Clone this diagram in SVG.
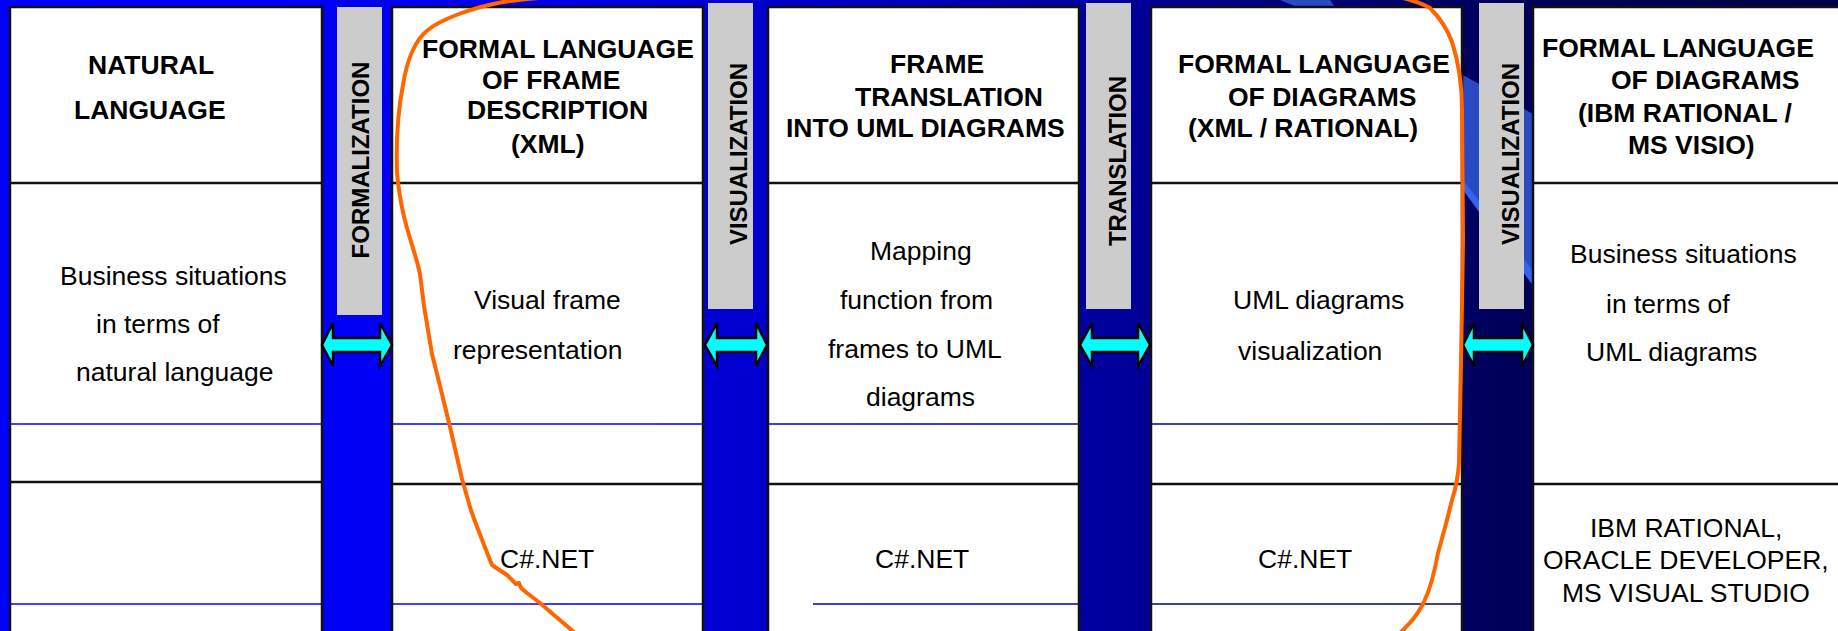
<svg xmlns="http://www.w3.org/2000/svg" width="1838" height="631" viewBox="0 0 1838 631">
<defs>
<linearGradient id="bg" gradientUnits="userSpaceOnUse" x1="0" y1="0" x2="1838" y2="0">
<stop offset="0" stop-color="#0000FF"/>
<stop offset="0.2" stop-color="#0000F5"/>
<stop offset="0.4" stop-color="#0000D2"/>
<stop offset="0.6" stop-color="#00009E"/>
<stop offset="0.82" stop-color="#00005A"/>
<stop offset="1" stop-color="#000048"/>
</linearGradient>
<style>
.box{fill:#fff;stroke:#111;stroke-width:2.5}
.hl{stroke:#111;stroke-width:2.5}
.thin{stroke:url(#bg);stroke-width:1.3}
.bar{fill:#cccccc}
.h{font-family:"Liberation Sans",Arial,sans-serif;font-weight:bold;font-size:26.5px;fill:#000}
.t{font-family:"Liberation Sans",Arial,sans-serif;font-size:26.5px;fill:#000}
.v{font-family:"Liberation Sans",Arial,sans-serif;font-weight:bold;font-size:24px;fill:#000;text-anchor:middle}
.arrow{fill:#00FFFF;stroke:#000;stroke-width:2.5;stroke-linejoin:miter}
.hi{fill:none;stroke:#FF6600;stroke-width:4;stroke-linejoin:round;stroke-linecap:round}
</style>
</defs>
<g id="background">
<rect x="0" y="0" width="1838" height="631" fill="url(#bg)"/>
<polygon points="1280,0 1463,75 1540,118 1540,295 1463,187 1330,0" fill="#2A4AC4"/>
<polygon points="1463,180 1540,280 1540,295 1463,190" fill="#3563F0"/>
</g>
<g id="col-natural">
<rect class="box" x="10" y="7" width="312" height="640"/>
<line class="hl" x1="10" y1="183" x2="322" y2="183"/>
<line class="thin" x1="11" y1="424" x2="321" y2="424"/>
<line class="hl" x1="10" y1="482" x2="322" y2="482"/>
<line class="thin" x1="11" y1="604" x2="321" y2="604"/>
<text class="h" x="88" y="74">NATURAL</text>
<text class="h" x="74" y="119">LANGUAGE</text>
<text class="t" x="60" y="285">Business situations</text>
<text class="t" x="96" y="333">in terms of</text>
<text class="t" x="76" y="381">natural language</text>
</g>
<g id="col-frame-description">
<rect class="box" x="392" y="7" width="311" height="640"/>
<line class="hl" x1="392" y1="183" x2="703" y2="183"/>
<line class="thin" x1="393" y1="424" x2="702" y2="424"/>
<line class="hl" x1="392" y1="484" x2="703" y2="484"/>
<line class="thin" x1="393" y1="604" x2="702" y2="604"/>
<text class="h" x="422" y="58">FORMAL LANGUAGE</text>
<text class="h" x="482" y="89">OF FRAME</text>
<text class="h" x="467" y="119">DESCRIPTION</text>
<text class="h" x="511" y="153">(XML)</text>
<text class="t" x="474" y="309">Visual frame</text>
<text class="t" x="453" y="359">representation</text>
<text class="t" x="500" y="568">C#.NET</text>
</g>
<g id="col-frame-translation">
<rect class="box" x="768" y="7" width="311" height="640"/>
<line class="hl" x1="768" y1="183" x2="1079" y2="183"/>
<line class="thin" x1="769" y1="424" x2="1078" y2="424"/>
<line class="hl" x1="768" y1="484" x2="1079" y2="484"/>
<line class="thin" x1="813" y1="604" x2="1078" y2="604"/>
<text class="h" x="890" y="73">FRAME</text>
<text class="h" x="855" y="106">TRANSLATION</text>
<text class="h" x="786" y="137">INTO UML DIAGRAMS</text>
<text class="t" x="870" y="260">Mapping</text>
<text class="t" x="840" y="309">function from</text>
<text class="t" x="828" y="358">frames to UML</text>
<text class="t" x="866" y="406">diagrams</text>
<text class="t" x="875" y="568">C#.NET</text>
</g>
<g id="col-diagrams-xml">
<rect class="box" x="1151" y="7" width="311" height="640"/>
<line class="hl" x1="1151" y1="183" x2="1462" y2="183"/>
<line class="thin" x1="1152" y1="424" x2="1461" y2="424"/>
<line class="hl" x1="1151" y1="484" x2="1462" y2="484"/>
<line class="thin" x1="1152" y1="604" x2="1461" y2="604"/>
<text class="h" x="1178" y="73">FORMAL LANGUAGE</text>
<text class="h" x="1228" y="106">OF DIAGRAMS</text>
<text class="h" x="1188" y="137">(XML / RATIONAL)</text>
<text class="t" x="1233" y="309">UML diagrams</text>
<text class="t" x="1238" y="360">visualization</text>
<text class="t" x="1258" y="568">C#.NET</text>
</g>
<g id="col-diagrams-tools">
<rect class="box" x="1533" y="7" width="320" height="640"/>
<line class="hl" x1="1533" y1="183" x2="1840" y2="183"/>
<line class="hl" x1="1533" y1="484" x2="1840" y2="484"/>
<text class="h" x="1542" y="57">FORMAL LANGUAGE</text>
<text class="h" x="1611" y="89">OF DIAGRAMS</text>
<text class="h" x="1578" y="122">(IBM RATIONAL /</text>
<text class="h" x="1628" y="154">MS VISIO)</text>
<text class="t" x="1570" y="263">Business situations</text>
<text class="t" x="1606" y="313">in terms of</text>
<text class="t" x="1586" y="361">UML diagrams</text>
<text class="t" x="1590" y="537">IBM RATIONAL,</text>
<text class="t" x="1543" y="569">ORACLE DEVELOPER,</text>
<text class="t" x="1562" y="602">MS VISUAL STUDIO</text>
</g>
<g id="bar-formalization">
<rect class="bar" x="337" y="7" width="45" height="308"/>
<text class="v" transform="translate(369,160) rotate(-90)">FORMALIZATION</text>
</g>
<g id="bar-visualization-1">
<rect class="bar" x="708" y="3" width="45" height="306"/>
<text class="v" transform="translate(747,154) rotate(-90)">VISUALIZATION</text>
</g>
<g id="bar-translation">
<rect class="bar" x="1086" y="3" width="45" height="306"/>
<text class="v" transform="translate(1126,161) rotate(-90)">TRANSLATION</text>
</g>
<g id="bar-visualization-2">
<rect class="bar" x="1479" y="3" width="45" height="306"/>
<text class="v" transform="translate(1519,154) rotate(-90)">VISUALIZATION</text>
</g>
<g id="connectors">
<polygon class="arrow" points="322,345 333,323 333,338 380,338 380,323 392,345 380,366 380,352 333,352 333,366"/>
<polygon class="arrow" points="705,345 717,323 717,338 756,338 756,323 767,345 756,366 756,352 717,352 717,366"/>
<polygon class="arrow" points="1080,345 1092,323 1092,338 1138,338 1138,323 1150,345 1138,366 1138,352 1092,352 1092,366"/>
<polygon class="arrow" points="1463,345 1474,323 1474,338 1522,338 1522,323 1533,345 1522,366 1522,352 1474,352 1474,366"/>
</g>
<g id="highlight">
<path class="hi" d="M575,633 L540,603 L527,593 L521,588 L519,583 L516,584 L512,580 L507,575 L492,565 C480,535 474,520 470,507 L462,479 L450,427 L442,394 L432,354 L424,306 L420,274 C414,245 402,225 397,173 C396,140 398,110 403,85 C407,60 415,40 428,30 C440,20 470,8 503,2 C530,-2 560,-4 600,-6 L1380,-6 C1400,-4 1420,2 1430,8 C1440,18 1447,28 1452,42 C1458,60 1462,85 1462,110 L1463,241 L1461,362 L1459,463 C1458,478 1456,488 1452,500 L1447,520 L1438,553 C1435,570 1432,585 1424,602 C1416,618 1408,625 1400,633"/>
</g>
</svg>
